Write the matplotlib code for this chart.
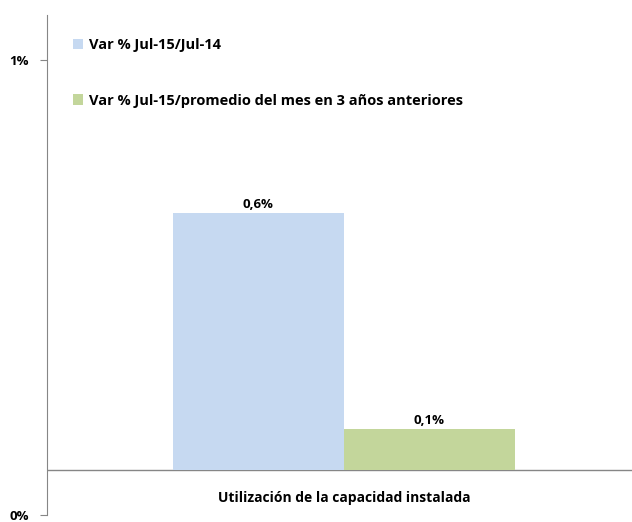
import matplotlib.pyplot as plt
from matplotlib.patches import Patch

# Data
category = "Utilización de la capacidad instalada"
series_names = ["Var % Jul-15/Jul-14",
                "Var % Jul-15/promedio del mes en 3 años anteriores"]
values = [0.565, 0.09]          # percent
value_labels = ["0,6%", "0,1%"]
colors = ["#c6d9f1", "#c3d69b"]
ytick_vals = [-0.1, 0.9]
ytick_labels = ["0%", "1%"]

plt.rcParams["font.family"] = ["Open Sans", "DejaVu Sans"]

fig = plt.figure(figsize=(6.32, 5.22), dpi=100)
ax = fig.add_axes([47 / 632, 1 - 515 / 522, 585 / 632, 500 / 522])

width = 0.288
offsets = [-width / 2, width / 2]
for v, lab, c, off in zip(values, value_labels, colors, offsets):
    ax.bar(off, v, width=width, color=c, edgecolor="none", zorder=2)
    ax.text(off, v + 0.004, lab, ha="center", va="bottom",
            fontsize=9.5, fontweight="bold")

ax.set_xlim(-0.5, 0.485)
ax.set_ylim(-0.1, 1.0)
ax.axhline(0, color="#868686", lw=1, zorder=1)

for s in ["top", "right", "bottom"]:
    ax.spines[s].set_visible(False)
ax.spines["left"].set_color("#868686")
ax.set_xticks([])
ax.set_yticks(ytick_vals)
ax.set_yticklabels(ytick_labels, fontsize=9.5, fontweight="bold")
ax.tick_params(axis="y", length=5, color="#868686", pad=8)

ax.text(0, -0.063, category, ha="center", va="center",
        fontsize=10, fontweight="bold")

handles = [Patch(facecolor=c, edgecolor="none") for c in colors]
ax.legend(handles, series_names, loc="upper left",
          bbox_to_anchor=(0.022, 0.98), frameon=False,
          prop={"size": 10.5, "weight": "bold"},
          handlelength=0.7, handleheight=0.7, handletextpad=0.4,
          labelspacing=2.85)

fig.savefig("out.png", dpi=100)
